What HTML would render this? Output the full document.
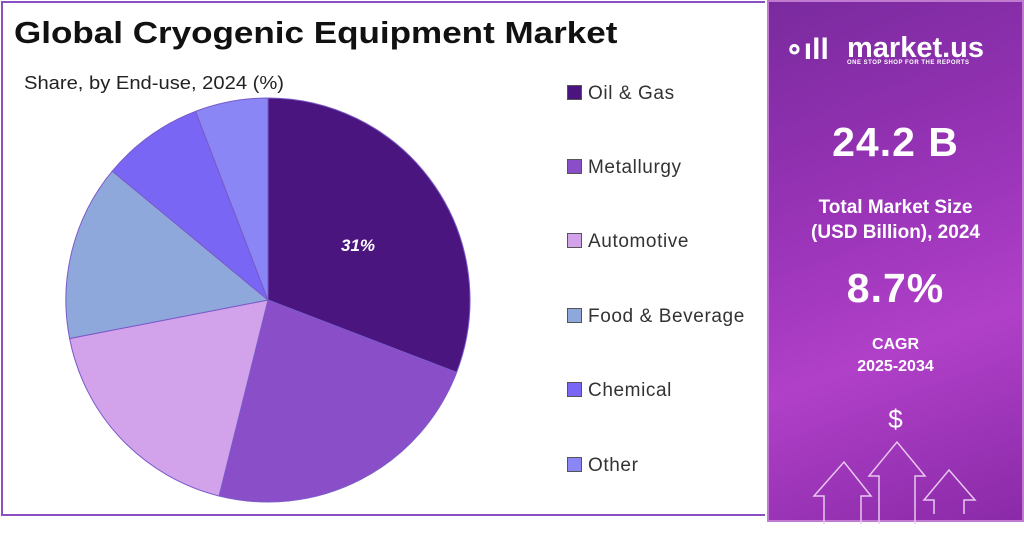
<!DOCTYPE html>
<html><head><style>
body{margin:0;width:1024px;height:522px;background:#fff;overflow:hidden;position:relative;font-family:"Liberation Sans",sans-serif}
.frame{position:absolute;left:1px;top:1px;width:764px;height:515px;border:2px solid #8a4fc2;border-right:none;box-sizing:border-box}
.title{position:absolute;left:14px;top:15px;font-size:31px;font-weight:bold;color:#111;transform:scaleX(1.13);transform-origin:left top}
.sub{position:absolute;left:24px;top:73px;font-size:18px;color:#222;transform:scaleX(1.12);transform-origin:left top}
.leg{position:absolute;left:567px;font-size:19px;color:#333;letter-spacing:0.6px}
.leg i{display:inline-block;width:13px;height:13px;border:1px solid #555;margin-right:6px;vertical-align:-1px}
.right{position:absolute;left:767px;top:0;width:257px;height:522px;background:linear-gradient(160deg,#7a2a9e 0%,#9a34b8 40%,#b040c8 65%,#8a2aa8 100%);border:2px solid #c07ad0;box-sizing:border-box;color:#fff;text-align:center;font-weight:bold}
</style></head><body>
<div class="frame"></div>
<div class="title">Global Cryogenic Equipment Market</div>
<div class="sub">Share, by End-use, 2024 (%)</div>
<svg width="540" height="522" style="position:absolute;left:0;top:0">
<g stroke="#7a5ac8" stroke-width="1">
<path d="M268,300 L268,98 A202,202 0 0 1 456.6,372.4 Z" fill="#4b1580"/>
<path d="M268,300 L456.6,372.4 A202,202 0 0 1 219.1,496 Z" fill="#8a4ec8"/>
<path d="M268,300 L219.1,496 A202,202 0 0 1 69.6,338.5 Z" fill="#d2a2ea"/>
<path d="M268,300 L69.6,338.5 A202,202 0 0 1 112.3,171.1 Z" fill="#8fa8dc"/>
<path d="M268,300 L112.3,171.1 A202,202 0 0 1 195.6,111.4 Z" fill="#7a66f5"/>
<path d="M268,300 L195.6,111.4 A202,202 0 0 1 268,98 Z" fill="#8b86f5"/>
</g>
<text x="358" y="251" fill="#fff" font-size="17" font-weight="bold" font-style="italic" text-anchor="middle" font-family="Liberation Sans,sans-serif">31%</text>
</svg>
<div class="leg" style="top:83px"><i style="background:#4b1580"></i>Oil &amp; Gas</div>
<div class="leg" style="top:157px"><i style="background:#8a4ec8"></i>Metallurgy</div>
<div class="leg" style="top:231px"><i style="background:#d2a2ea"></i>Automotive</div>
<div class="leg" style="top:306px"><i style="background:#8fa8dc"></i>Food &amp; Beverage</div>
<div class="leg" style="top:380px"><i style="background:#7a66f5"></i>Chemical</div>
<div class="leg" style="top:455px"><i style="background:#8b86f5"></i>Other</div>
<div class="right">
<div style="position:absolute;left:16px;top:30px;font-size:30px;">&#8728;ıll</div>
<div style="position:absolute;left:78px;top:30px;font-size:29px;">market.us</div>
<div style="position:absolute;left:78px;top:58px;font-size:6px;letter-spacing:0.5px">ONE STOP SHOP FOR THE REPORTS</div>
<div style="position:absolute;left:0;width:253px;top:117px;font-size:41px;letter-spacing:1px">24.2 B</div>
<div style="position:absolute;left:0;width:253px;top:193px;font-size:19px;line-height:25px">Total Market Size<br>(USD Billion), 2024</div>
<div style="position:absolute;left:0;width:253px;top:263px;font-size:41px;letter-spacing:1px">8.7%</div>
<div style="position:absolute;left:0;width:253px;top:332px;font-size:16px;line-height:22px">CAGR<br>2025-2034</div>
<div style="position:absolute;left:0;width:253px;top:402px;font-size:26px;font-weight:normal">$</div>
<svg width="253" height="100" style="position:absolute;left:0;top:432px" fill="none" stroke="#e8c8f0" stroke-width="1.5">
<path d="M55,90 V62 H45 L75,28 L102,62 H92 V90"/>
<path d="M110,90 V42 H100 L128,8 L156,42 H146 V90"/>
<path d="M165,80 V66 H155 L180,36 L206,66 H195 V80"/>
</svg>
</div>
</body></html>
